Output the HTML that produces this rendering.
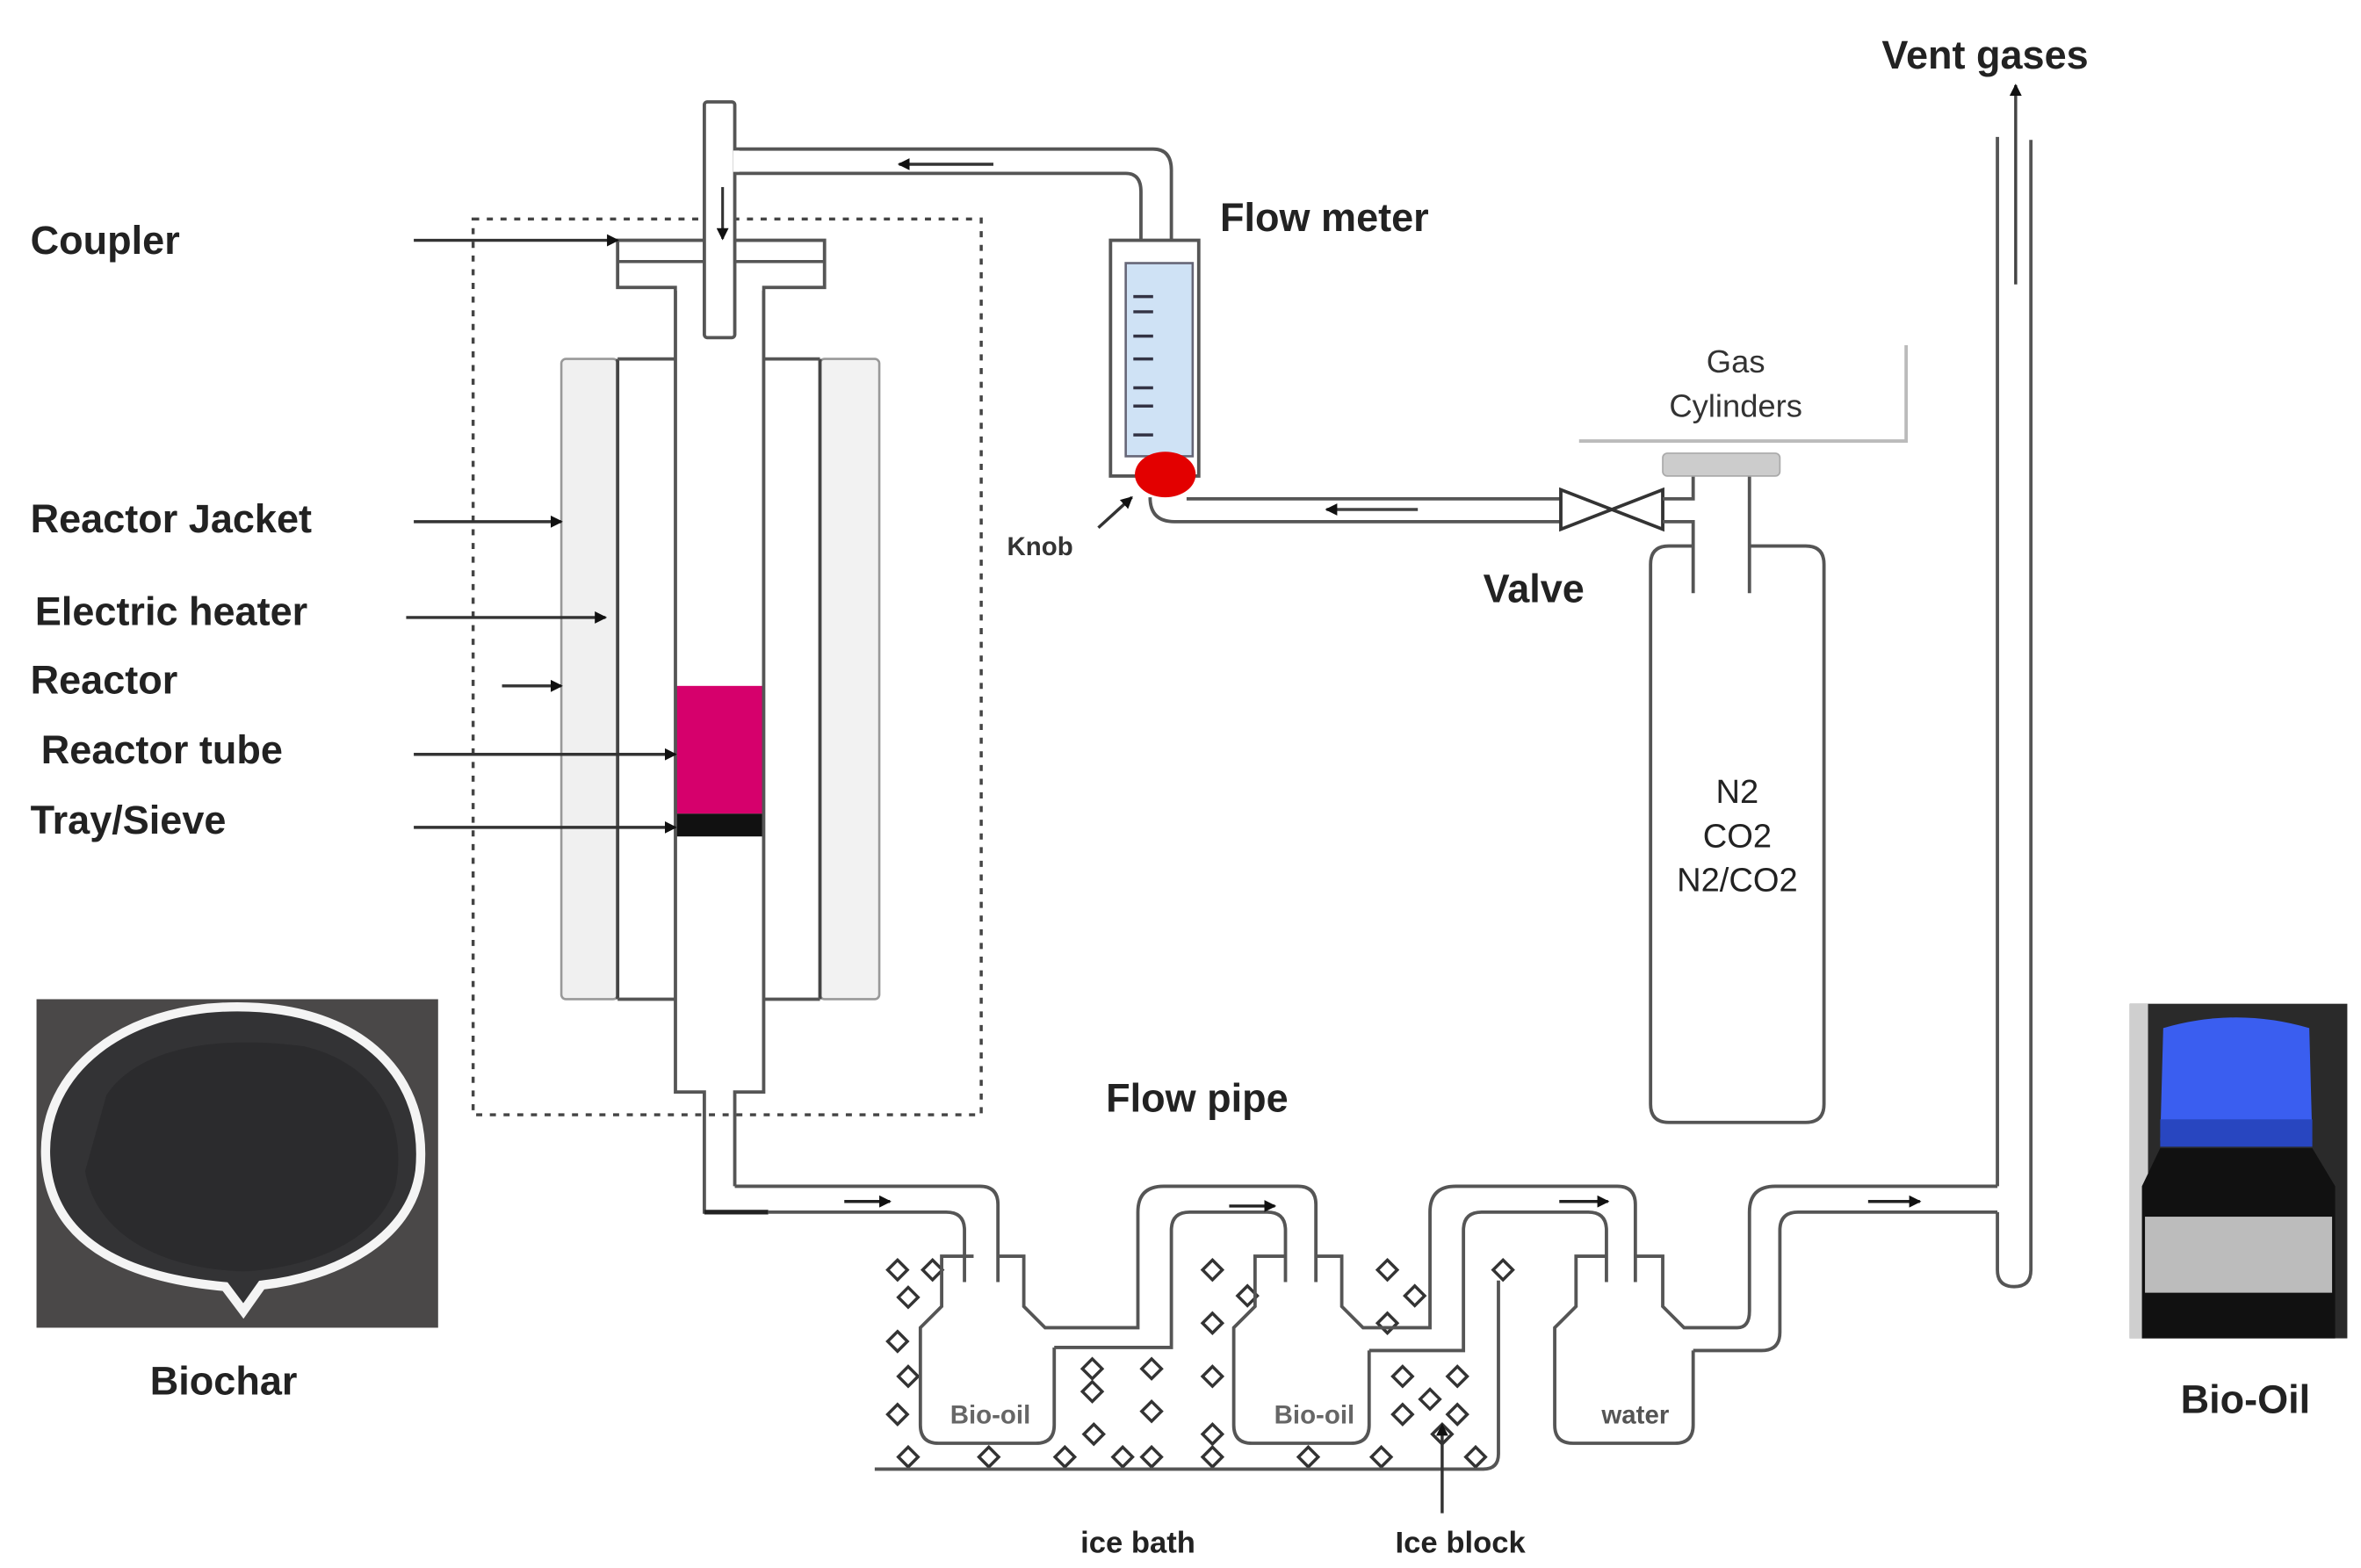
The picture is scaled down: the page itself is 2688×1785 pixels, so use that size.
<!DOCTYPE html>
<html><head><meta charset="utf-8"><style>
html,body{margin:0;padding:0;background:#fff;}
svg{display:block;}
text{font-family:"Liberation Sans",sans-serif;}
.b{font-weight:bold;font-size:26px;fill:#222;}
.p{fill:none;stroke:#555;stroke-width:2.2;}
</style></head><body>
<svg width="2688" height="1785" viewBox="0 0 1552 1031" preserveAspectRatio="none" xmlns="http://www.w3.org/2000/svg">
<defs>
<marker id="ah" markerWidth="8" markerHeight="8" refX="7" refY="4" orient="auto" markerUnits="userSpaceOnUse"><path d="M0,0 L8,4 L0,8 z" fill="#111"/></marker>
<symbol id="dm" viewBox="-8 -8 16 16" overflow="visible"><path d="M0,-6.5 L6.5,0 L0,6.5 L-6.5,0 Z" fill="#fff" stroke="#333" stroke-width="2"/></symbol>
</defs>
<rect width="1552" height="1031" fill="#fff"/>

<text class="b" x="20" y="167">Coupler</text>
<text class="b" x="20" y="350">Reactor Jacket</text>
<text class="b" x="23" y="411">Electric heater</text>
<text class="b" x="20" y="456">Reactor</text>
<text class="b" x="27" y="502">Reactor tube</text>
<text class="b" x="20" y="548">Tray/Sieve</text>

<rect x="311" y="144" width="334" height="589" fill="none" stroke="#444" stroke-width="2" stroke-dasharray="4,5"/>

<rect x="369" y="236" width="37" height="421" fill="#f0f0f0" stroke="#999" stroke-width="1.5" rx="3"/>
<rect x="539" y="236" width="39" height="421" fill="#f2f2f2" stroke="#999" stroke-width="1.5" rx="3"/>
<line x1="406" y1="236" x2="406" y2="657" stroke="#444" stroke-width="2.2"/>
<line x1="539" y1="236" x2="539" y2="657" stroke="#444" stroke-width="2.2"/>
<path class="p" d="M406,236 H444 M502,236 H539 M406,657 H444 M502,657 H539"/>

<rect x="444" y="451" width="58" height="84" fill="#d6006c"/>
<rect x="444" y="535" width="58" height="15" fill="#111"/>
<path class="p" d="M444,189 V718 H463 V797 H483 M502,189 V718 H483 V780"/>
<line x1="463" y1="797" x2="505" y2="797" stroke="#222" stroke-width="3"/>

<rect x="406" y="158" width="136" height="31" fill="#fff" stroke="#555" stroke-width="2.2"/>
<line x1="406" y1="172" x2="542" y2="172" stroke="#555" stroke-width="2"/>
<rect x="445" y="187" width="56" height="4" fill="#fff"/>
<rect x="463" y="67" width="20" height="155" fill="#fff" stroke="#555" stroke-width="2.2" rx="2"/>
<path class="p" d="M483,98 H758 Q770,98 770,112 V165 M483,114 H740 Q750,114 750,126 V165"/>
<rect x="482" y="99" width="4" height="14" fill="#fff"/>
<line x1="653" y1="108" x2="591" y2="108" stroke="#333" stroke-width="2" marker-end="url(#ah)"/>
<line x1="475" y1="123" x2="475" y2="157" stroke="#333" stroke-width="1.8" marker-end="url(#ah)"/>

<g stroke="#333" stroke-width="2" marker-end="url(#ah)">
<line x1="272" y1="158" x2="406" y2="158"/>
<line x1="272" y1="343" x2="369" y2="343"/>
<line x1="267" y1="406" x2="398" y2="406"/>
<line x1="330" y1="451" x2="369" y2="451"/>
<line x1="272" y1="496" x2="444" y2="496"/>
<line x1="272" y1="544" x2="444" y2="544"/>
</g>

<rect x="730" y="158" width="58" height="155" fill="#fff" stroke="#555" stroke-width="2.2"/>
<rect x="740" y="173" width="44" height="127" fill="#cfe2f5" stroke="#667" stroke-width="1.5"/>
<g stroke="#334" stroke-width="2">
<line x1="745" y1="195" x2="758" y2="195"/><line x1="745" y1="205" x2="758" y2="205"/>
<line x1="745" y1="221" x2="758" y2="221"/><line x1="745" y1="236" x2="758" y2="236"/>
<line x1="745" y1="255" x2="758" y2="255"/><line x1="745" y1="267" x2="758" y2="267"/>
<line x1="745" y1="286" x2="758" y2="286"/>
</g>
<ellipse cx="766" cy="312" rx="20" ry="15" fill="#e30000"/>
<text class="b" x="802" y="152">Flow meter</text>
<text x="662" y="365" font-size="17" font-weight="bold" fill="#333">Knob</text>
<line x1="722" y1="347" x2="744" y2="327" stroke="#333" stroke-width="2" marker-end="url(#ah)"/>

<path class="p" d="M756,327 Q756,343 772,343 H1026 M780,328 H1026"/>
<line x1="932" y1="335" x2="872" y2="335" stroke="#444" stroke-width="2" marker-end="url(#ah)"/>
<path d="M1026,322 L1093,348 L1093,322 L1026,348 Z" fill="#fff" stroke="#333" stroke-width="2.2"/>
<path class="p" d="M1093,328 H1113 V313 M1093,343 H1113 V390 M1150,313 V390"/>
<rect x="1093" y="298" width="77" height="15" rx="3" fill="#ccc" stroke="#aaa"/>
<text x="1141" y="245" font-size="21" text-anchor="middle" fill="#333">Gas</text>
<text x="1141" y="274" font-size="21" text-anchor="middle" fill="#333">Cylinders</text>
<path d="M1038,290 H1253 V227" fill="none" stroke="#bbb" stroke-width="2.2"/>
<text class="b" x="975" y="396">Valve</text>
<path class="p" d="M1113,359 H1097 Q1085,359 1085,371 V726 Q1085,738 1097,738 H1187 Q1199,738 1199,726 V371 Q1199,359 1187,359 H1150"/>
<text x="1142" y="528" font-size="22" text-anchor="middle" fill="#222">N2</text>
<text x="1142" y="557" font-size="22" text-anchor="middle" fill="#222">CO2</text>
<text x="1142" y="586" font-size="22" text-anchor="middle" fill="#222">N2/CO2</text>

<text class="b" x="1237" y="45">Vent gases</text>
<line x1="1325" y1="187" x2="1325" y2="56" stroke="#444" stroke-width="2" marker-end="url(#ah)"/>
<path class="p" d="M1313,90 V780 M1313,797 V835 Q1313,846 1324,846 Q1335,846 1335,835 V92"/>

<text class="b" x="727" y="731">Flow pipe</text>

<g>
<use href="#dm" x="582" y="827" width="16" height="16"/>
<use href="#dm" x="605" y="827" width="16" height="16"/>
<use href="#dm" x="589" y="845" width="16" height="16"/>
<use href="#dm" x="582" y="874" width="16" height="16"/>
<use href="#dm" x="589" y="897" width="16" height="16"/>
<use href="#dm" x="582" y="922" width="16" height="16"/>
<use href="#dm" x="589" y="950" width="16" height="16"/>
<use href="#dm" x="642" y="950" width="16" height="16"/>
<use href="#dm" x="692" y="950" width="16" height="16"/>
<use href="#dm" x="730" y="950" width="16" height="16"/>
<use href="#dm" x="749" y="950" width="16" height="16"/>
<use href="#dm" x="789" y="950" width="16" height="16"/>
<use href="#dm" x="852" y="950" width="16" height="16"/>
<use href="#dm" x="900" y="950" width="16" height="16"/>
<use href="#dm" x="962" y="950" width="16" height="16"/>
<use href="#dm" x="710" y="892" width="16" height="16"/>
<use href="#dm" x="749" y="892" width="16" height="16"/>
<use href="#dm" x="710" y="907" width="16" height="16"/>
<use href="#dm" x="789" y="897" width="16" height="16"/>
<use href="#dm" x="749" y="920" width="16" height="16"/>
<use href="#dm" x="711" y="935" width="16" height="16"/>
<use href="#dm" x="789" y="935" width="16" height="16"/>
<use href="#dm" x="789" y="827" width="16" height="16"/>
<use href="#dm" x="812" y="844" width="16" height="16"/>
<use href="#dm" x="789" y="862" width="16" height="16"/>
<use href="#dm" x="904" y="827" width="16" height="16"/>
<use href="#dm" x="922" y="844" width="16" height="16"/>
<use href="#dm" x="904" y="862" width="16" height="16"/>
<use href="#dm" x="914" y="897" width="16" height="16"/>
<use href="#dm" x="950" y="897" width="16" height="16"/>
<use href="#dm" x="932" y="912" width="16" height="16"/>
<use href="#dm" x="914" y="922" width="16" height="16"/>
<use href="#dm" x="950" y="922" width="16" height="16"/>
<use href="#dm" x="940" y="935" width="16" height="16"/>
<use href="#dm" x="980" y="827" width="16" height="16"/>
</g>
<path class="p" d="M575,966 H975 Q985,966 985,956 V842"/>

<path class="p" d="M505,797 H622 Q634,797 634,809 V843 M483,780 H644 Q656,780 656,792 V843"/>

<path class="p" d="M640,826 H619 V859 L605,873 V937 Q605,949 617,949 H681 Q693,949 693,937 V886 M656,826 H673 V859 L687,873 H748 V797 Q748,780 765,780 H853 Q865,780 865,792 V843"/>
<path class="p" d="M693,886 H770 V809 Q770,797 782,797 H833 Q845,797 845,809 V843"/>
<path class="p" d="M845,826 H825 V859 L811,873 V937 Q811,949 823,949 H888 Q900,949 900,937 V888 M865,826 H882 V859 L896,873 H940 V797 Q940,780 957,780 H1063 Q1075,780 1075,792 V843"/>
<path class="p" d="M900,888 H962 V809 Q962,797 974,797 H1044 Q1056,797 1056,809 V843"/>
<path class="p" d="M1056,826 H1036 V859 L1022,873 V937 Q1022,949 1034,949 H1101 Q1113,949 1113,937 V888 M1075,826 H1093 V859 L1107,873 H1142 Q1150,873 1150,862 V797 Q1150,780 1167,780 H1313"/>
<path class="p" d="M1113,888 H1158 Q1170,888 1170,876 V809 Q1170,797 1182,797 H1313"/>

<g stroke="#222" stroke-width="2" marker-end="url(#ah)">
<line x1="555" y1="790" x2="585" y2="790"/>
<line x1="808" y1="793" x2="838" y2="793"/>
<line x1="1025" y1="790" x2="1057" y2="790"/>
<line x1="1228" y1="790" x2="1262" y2="790"/>
</g>
<text x="651" y="936" font-size="17" font-weight="bold" text-anchor="middle" fill="#666">Bio-oil</text>
<text x="864" y="936" font-size="17" font-weight="bold" text-anchor="middle" fill="#666">Bio-oil</text>
<text x="1075" y="936" font-size="17" font-weight="bold" text-anchor="middle" fill="#555">water</text>
<line x1="948" y1="995" x2="948" y2="937" stroke="#333" stroke-width="2" marker-end="url(#ah)"/>
<text x="748" y="1021" font-size="20" font-weight="bold" text-anchor="middle" fill="#222">ice bath</text>
<text x="960" y="1021" font-size="20" font-weight="bold" text-anchor="middle" fill="#222">Ice block</text>

<rect x="24" y="657" width="264" height="216" fill="#4a4848"/>
<path d="M156,662 C240,662 282,710 276,770 C270,815 220,840 172,845 L160,862 L148,846 C80,840 32,815 30,760 C28,705 80,662 156,662 Z" fill="#333335" stroke="#f4f4f4" stroke-width="6"/>
<path d="M70,720 C90,690 140,680 200,688 C250,700 268,740 260,780 C248,818 200,834 160,836 C100,834 62,808 56,770 Z" fill="#2b2b2d"/>
<text class="b" x="147" y="917" text-anchor="middle">Biochar</text>

<rect x="1400" y="660" width="143" height="220" fill="#2a2a2a"/>
<rect x="1400" y="660" width="12" height="220" fill="#cfcfcf"/>
<path d="M1422,676 Q1470,662 1518,676 L1520,750 L1420,750 Z" fill="#3a5ef0"/>
<rect x="1420" y="736" width="100" height="18" fill="#2846c0"/>
<path d="M1420,755 L1520,755 L1535,780 L1535,880 L1408,880 L1408,780 Z" fill="#111"/>
<rect x="1410" y="800" width="123" height="50" fill="#bcbcbc"/>
<text class="b" x="1476" y="929" text-anchor="middle">Bio-Oil</text>
</svg>
</body></html>
